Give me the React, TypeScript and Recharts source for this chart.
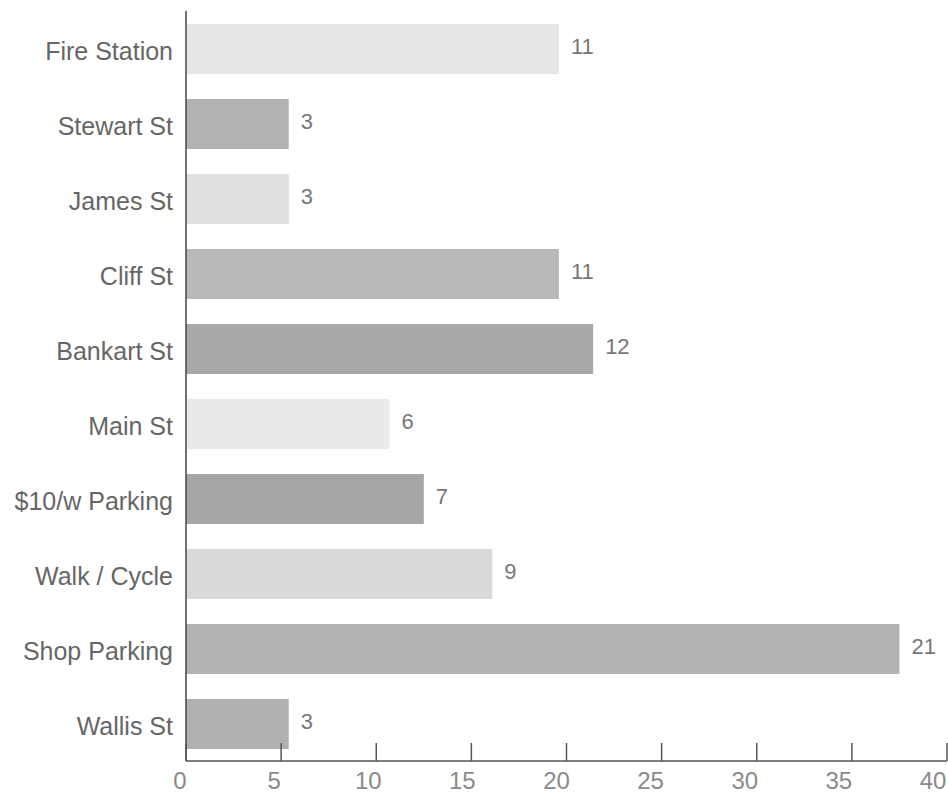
import { BarChart, Bar, XAxis, YAxis, Cell, LabelList } from 'recharts';

const places = [
  'Fire Station',
  'Stewart St',
  'James St',
  'Cliff St',
  'Bankart St',
  'Main St',
  '$10/w Parking',
  'Walk / Cycle',
  'Shop Parking',
  'Wallis St',
];
// bar length (percent of respondents) and the count printed next to each bar
const percents = [19.6, 5.4, 5.4, 19.6, 21.4, 10.7, 12.5, 16.1, 37.5, 5.4];
const counts = [11, 3, 3, 11, 12, 6, 7, 9, 21, 3];
const greys = ['#e6e6e6', '#b3b3b3', '#e0e0e0', '#b9b9b9', '#a9a9a9', '#e9e9e9', '#a6a6a6', '#dadada', '#b3b3b3', '#b0b0b0'];
const xTicks = [0, 5, 10, 15, 20, 25, 30, 35, 40];

const data = places.map((name, i) => ({ name, pct: percents[i], count: counts[i] }));

// ticks point up into the plot, labels sit below the axis line
function XTick(props: any) {
  const { x, y, payload } = props;
  const v = payload.value as number;
  return (
    <g>
      <line x1={x} x2={x} y1={y - 18} y2={y} stroke="#555" strokeWidth={1.5} />
      <text x={x - 6 - v / 5} y={y + 28} textAnchor="middle" fill="#8a8a8a" fontSize={24}>
        {v}
      </text>
    </g>
  );
}

export default function App() {
  return (
    <div style={{ position: 'absolute', left: 0, top: 0, fontFamily: '"Liberation Sans", Arial, sans-serif', background: '#fff' }}>
      <BarChart
        width={948}
        height={804}
        data={data}
        layout="vertical"
        margin={{ top: 11, right: 1, bottom: 0, left: 0 }}
        barSize={50}
      >
        <XAxis
          type="number"
          domain={[0, 40]}
          ticks={xTicks}
          height={43}
          tickLine={false}
          tickSize={0}
          tickMargin={0}
          tick={<XTick />}
          axisLine={{ stroke: '#555', strokeWidth: 1.5 }}
          interval={0}
        />
        <YAxis
          type="category"
          dataKey="name"
          width={186}
          tickLine={false}
          tickSize={0}
          tickMargin={13}
          tick={{ fill: '#666', fontSize: 25, dy: 3 }}
          axisLine={{ stroke: '#444', strokeWidth: 1.5 }}
          interval={0}
        />
        <Bar dataKey="pct" isAnimationActive={false}>
          {data.map((d, i) => (
            <Cell key={d.name} fill={greys[i]} />
          ))}
          <LabelList dataKey="count" position="right" offset={12} fill="#777" fontSize={22} dy={-3} />
        </Bar>
      </BarChart>
    </div>
  );
}
